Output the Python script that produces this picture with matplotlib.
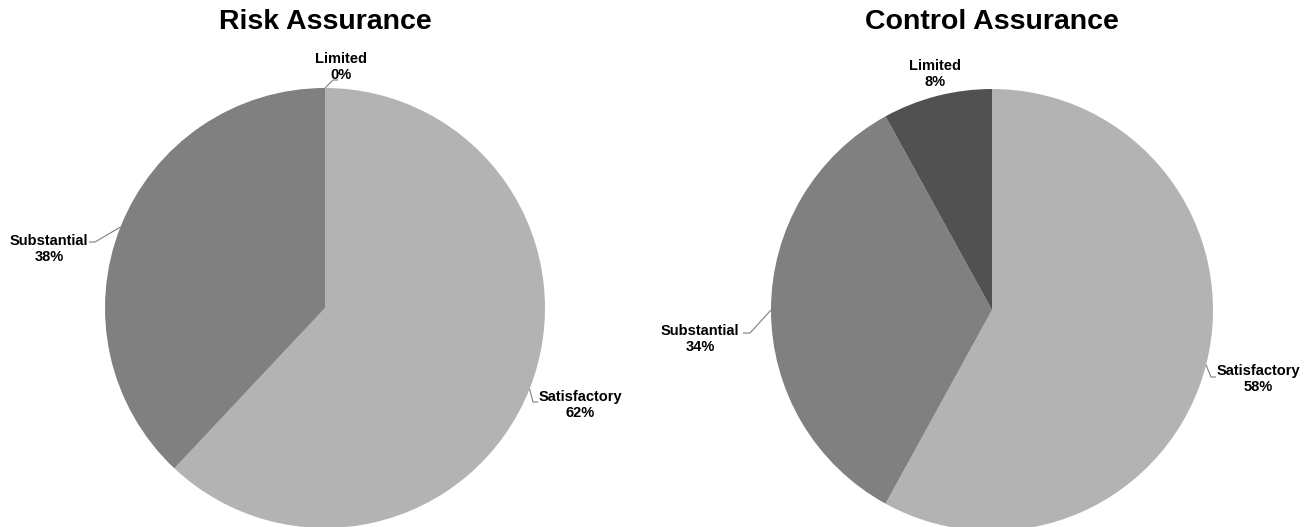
import numpy as np
import matplotlib
matplotlib.use("Agg")
import matplotlib.pyplot as plt

plt.rcParams['font.family'] = ['Liberation Sans', 'DejaVu Sans']

categories = ["Satisfactory", "Substantial", "Limited"]
risk_values = [62, 38, 0]
control_values = [58, 34, 8]
titles = ["Risk Assurance", "Control Assurance"]
colors = ["#b3b3b3", "#808080", "#515151"]

W, H = 1315, 527
fig = plt.figure(figsize=(W / 100, H / 100), dpi=100)
ax = fig.add_axes([0, 0, 1, 1])
ax.set_xlim(0, W)
ax.set_ylim(0, H)
ax.set_aspect('equal')
ax.axis('off')

# pixel layout (x, y from top)
pies = [
    dict(values=risk_values, title=titles[0], cx=325, cy=308, r=220, tx=325,
         labels={
             "Satisfactory": dict(pos=(580, 405), elbow=(533, 402), end=(538, 402)),
             "Substantial": dict(pos=(49, 249), elbow=(95, 242), end=(89, 242)),
             "Limited": dict(pos=(341, 67), elbow=(333, 80), end=(338, 80)),
         }),
    dict(values=control_values, title=titles[1], cx=992, cy=310, r=221, tx=992,
         labels={
             "Satisfactory": dict(pos=(1258, 379), elbow=(1211, 377), end=(1216, 377)),
             "Substantial": dict(pos=(700, 339), elbow=(750, 333), end=(743, 333)),
             "Limited": dict(pos=(935, 74), elbow=None, end=None),
         }),
]

for p in pies:
    cy_up = H - p['cy']
    vals = p['values']
    ax.pie(vals, colors=colors, startangle=90, counterclock=False,
           center=(p['cx'], cy_up), radius=p['r'],
           wedgeprops=dict(linewidth=0), frame=True)
    ax.text(p['tx'], H - 22, p['title'], ha='center', va='center',
            fontsize=20.5, fontweight='bold')
    total = float(sum(vals))
    start = 90.0
    for cat, v in zip(categories, vals):
        sweep = 360.0 * v / total
        mid = np.deg2rad(start - sweep / 2)
        start -= sweep
        ex = p['cx'] + p['r'] * np.cos(mid)
        ey = cy_up + p['r'] * np.sin(mid)
        lab = p['labels'][cat]
        lx, ly = lab['pos']
        ax.text(lx, H - ly, f"{cat}\n{v}%", ha='center', va='center',
                fontsize=10.5, fontweight='bold', linespacing=1.15)
        if lab['elbow'] is not None:
            bx, by = lab['elbow']
            qx, qy = lab['end']
            ax.plot([ex, bx, qx], [ey, H - by, H - qy], color='#7f7f7f',
                    linewidth=0.8, solid_capstyle='butt')

ax.set_xlim(0, W)
ax.set_ylim(0, H)
ax.axis('off')
fig.savefig("out.png", dpi=100)
